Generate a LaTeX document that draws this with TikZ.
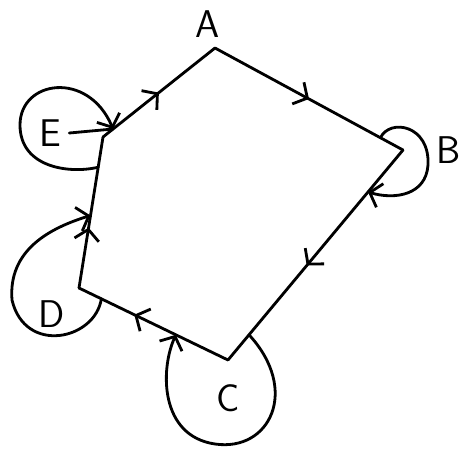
\documentclass[tikz,border=0pt]{standalone}
\usepackage{tikz}
\usetikzlibrary{arrows.meta,positioning,calc,decorations.markings}

\begin{document}
\begin{tikzpicture}[x=0.02cm, y=-0.02cm,
    line width=1.6pt, line cap=round, line join=round,
    lbl/.style={font=\sffamily\fontsize{22}{24}\selectfont, inner sep=0pt},
    edge/.style={postaction={decorate}, decoration={markings,
        mark=at position #1 with {\arrow{Straight Barb[length=6pt,width=14pt]}}}},
    edge/.default=0.5,
    selfloop/.style={-{Straight Barb[length=6pt,width=14pt]}}
  ]
  \useasboundingbox (0,0) rectangle (469,450);

  \coordinate (A) at (215,48);
  \coordinate (B) at (403,150);
  \coordinate (C) at (228,360);
  \coordinate (D) at (79,288);
  \coordinate (E) at (103,137);

  \node[lbl, above=5pt of A, xshift=-4pt] (la) {A};
  \node[lbl, right=18pt of B] (lb) {B};
  \node[lbl, below=13pt of C] (lc) {C};
  \node[lbl] (ld) at (52,314) {D};
  \node[lbl] (le) at (50,133) {E};

  \draw[edge] (E) -- (A);
  \draw[edge] (A) -- (B);
  \draw[edge=0.55] (B) -- (C);
  \draw[edge=0.63] (C) -- (D);
  \draw[edge=0.4] (D) -- (E);

  % self loops
  \coordinate (e1) at ($(E)!0.2!(D)$);
  \coordinate (e2) at ($(E)!0.09!(A)$);
  \draw[selfloop] (e1) .. controls (70,174) and (20,168) .. (20,125)
    .. controls (20,80) and (88,70) .. (e2);
  \draw ([xshift=4pt]le.east) -- (e2);

  \coordinate (b1) at ($(B)!0.12!(A)$);
  \coordinate (b2) at ($(B)!0.2!(C)$);
  \draw[selfloop] (b1) .. controls (390,118) and (430,125) .. (428,165)
    .. controls (426,195) and (395,200) .. (b2);

  \coordinate (c1) at ($(C)!0.12!(B)$);
  \coordinate (c2) at ($(C)!0.35!(D)$);
  \draw[selfloop] (c1) .. controls (300,390) and (270,452) .. (215,444)
    .. controls (160,436) and (160,370) .. (c2);

  \coordinate (d1) at ($(D)!0.15!(C)$);
  \coordinate (d2) at ($(D)!0.48!(E)$);
  \draw[selfloop] (d1) .. controls (95,340) and (25,355) .. (12,300)
    .. controls (8,250) and (50,228) .. (d2);
\end{tikzpicture}
\end{document}
